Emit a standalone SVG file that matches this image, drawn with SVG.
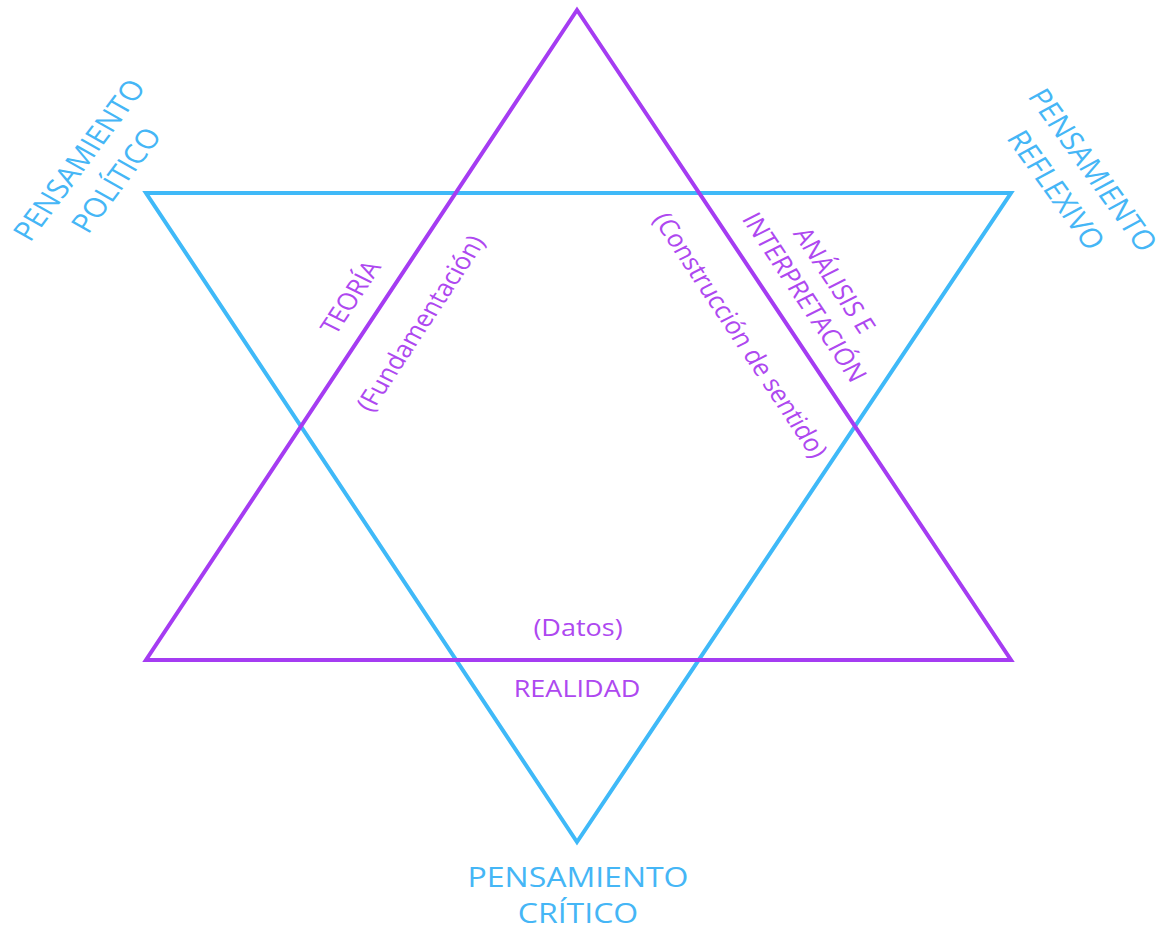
<svg xmlns="http://www.w3.org/2000/svg" width="1167" height="934" viewBox="0 0 1167 934">
<style>
.tri{fill:none;stroke-width:4;stroke-linejoin:miter}
.b{stroke:#3fb9f8}
.p{stroke:#a53cf2}
text{font-family:"Open Sans","Noto Sans","Liberation Sans",sans-serif;text-anchor:middle}
.tb{fill:#45b6f6;font-size:32px}
.tb2{fill:#45b6f6;font-size:31px}
.tp{fill:#ae48f0;font-size:27px}
</style>
<rect width="1167" height="934" fill="#ffffff"/>
<g id="connectors">
<polygon id="blue-triangle" class="tri b" points="146,193 1011,193 577,842"/>
<polygon id="purple-triangle" class="tri p" points="577,10 1011,660 146,660"/>
</g>
<g id="pensamiento-politico">
<g transform="translate(79,160) scale(1,0.868) rotate(-57)"><text class="tb2" y="11">PENSAMIENTO</text></g>
<g transform="translate(116,180) scale(1,0.868) rotate(-57)"><text class="tb2" y="11">POLÍTICO</text></g>
</g>
<g id="pensamiento-reflexivo">
<g transform="translate(1093,170) scale(1,0.868) rotate(58)"><text class="tb2" y="11">PENSAMIENTO</text></g>
<g transform="translate(1056,190) scale(1,0.868) rotate(58)"><text class="tb2" y="11">REFLEXIVO</text></g>
</g>
<g id="teoria">
<g transform="translate(350,297) scale(1,0.868) rotate(-60)"><text class="tp" y="10">TEORÍA</text></g>
<g transform="translate(420,323) scale(1,0.868) rotate(-60)"><text class="tp" y="10">(Fundamentación)</text></g>
</g>
<g id="analisis">
<g transform="translate(835,280) scale(1,0.868) rotate(60)"><text class="tp" y="10">ANÁLISIS E</text></g>
<g transform="translate(805,297) scale(1,0.868) rotate(60)"><text class="tp" y="10">INTERPRETACIÓN</text></g>
<g transform="translate(741,335) scale(1,0.868) rotate(60)"><text class="tp" y="10">(Construcción de sentido)</text></g>
</g>
<g id="realidad">
<g transform="translate(578,636) scale(1,0.868)"><text class="tp">(Datos)</text></g>
<g transform="translate(577,697) scale(1,0.868)"><text class="tp">REALIDAD</text></g>
</g>
<g id="pensamiento-critico">
<g transform="translate(578,887) scale(1,0.868)"><text class="tb">PENSAMIENTO</text></g>
<g transform="translate(578,923) scale(1,0.868)"><text class="tb">CRÍTICO</text></g>
</g>
</svg>
